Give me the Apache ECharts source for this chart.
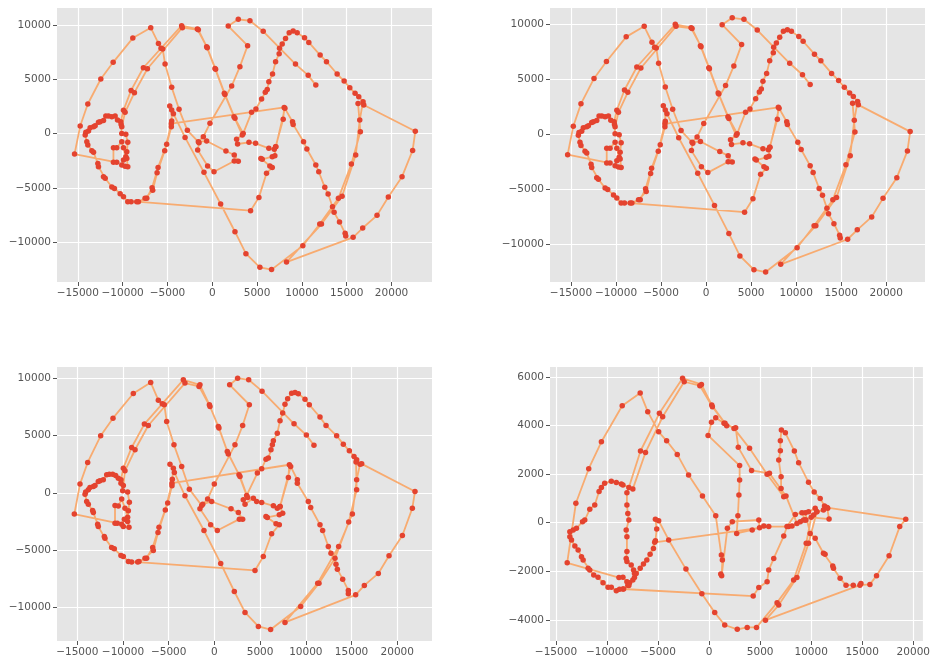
<!DOCTYPE html>
<html>
<head>
<meta charset="utf-8">
<script src="https://cdn.jsdelivr.net/npm/echarts@6/dist/echarts.min.js"></script>
<style>
  html, body { margin: 0; padding: 0; background: #fff; }
  #chart { width: 933px; height: 664px; }
</style>
</head>
<body>
<div id="chart"></div>
<script>
// tick labels
const xTicks = [-15000, -10000, -5000, 0, 5000, 10000, 15000, 20000];
const yTicksWide = [-10000, -5000, 0, 5000, 10000];
const yTicksNarrow = [-4000, -2000, 0, 2000, 4000, 6000];

// pen trace shown in the two top panels
const traceTop = [
  [11550,4490],[10700,5390],[9280,6430],[5680,9450],[4200,10430],[2900,10560],[1780,9940],[3940,8130],[3080,6190],[2160,4400],
  [-260,960],[-1000,-280],[-1560,-740],[-630,-680],[1520,-1600],[2450,-1970],[2900,-2550],[2450,-2520],[190,-3510],[-520,-2980],
  [-1630,-1510],[-1480,-830],[-2780,310],[-3710,2250],[-4530,4280],[-5270,6430],[-5530,7820],[-5720,7880],[-6010,8340],[-6870,9790],
  [-8870,8830],[-11060,6590],[-12440,5050],[-13890,2740],[-14740,710],[-15370,-1880],
  [-10660,-2640],[-11030,-2640],[-11030,-1290],[-10660,-1290],[-10100,-740],[-9910,-1290],[-9650,-2120],[-9910,-2430],[-10100,-2890],
  [-9730,-3010],[-9430,-3040],[-9540,-2280],[-9540,-1660],[-9430,-800],[-9650,-60],[-10100,30],[-10210,1110],
  [-9910,2160],[-9060,4000],[-7690,6090],[-3420,9970],[-1670,9660],
  [-560,7940],[370,5940],[1410,3630],[2530,1420],[3450,30],
  [4380,1970],[4870,2280],[5500,3200],[5910,3820],[6130,4090],[6310,4800],[6720,5510],[7060,6650],[7460,7390],[7500,7880],
  [7800,8280],[8170,8800],[8580,9330],[9020,9480],[9470,9330],[10290,8860],[10770,8430],[12030,7260],[12740,6650],[13930,5510],
  [14710,4860],[15340,4250],[15930,3730],[16340,3420],[16820,2960],
  [16450,1260],[16000,-1970],[14480,-5780],[12180,-8340],[8280,-11850],
  [15710,-9570],
  [16780,-8710],[18380,-7540],[19640,-5850],[21170,-3970],[22350,-1540],[22650,220],[16900,2650],
  [16260,2800],[16520,190],[15520,-2800],[14070,-5970],[11990,-8340],[10100,-10340],[6610,-12550],
  [5310,-12340],[3750,-11080],[2530,-9050],[930,-6490],[-930,-3570],[-3040,-340],
  [-4340,1850],[-4750,2560],[-4530,2190],[-4530,1170],
  [-4570,650],[-5090,-980],[-6050,-3110],[-6720,-4980],[-7310,-5970],[-8240,-6280],
  [-7500,-5970],[-6650,-5230],[-6160,-3600],[-5310,-1570],[-4570,930],
  [8020,2430],[7910,1330],[7060,-1200],
  [6980,-2030],[6690,-2120],[5570,-2370],[5420,-2280],[6420,-2980],[6690,-3110],[6050,-3660],[5200,-5880],[4270,-7110],
  [-8430,-6280],
  [-9060,-6280],[-9430,-6280],[-9910,-5810],[-10280,-5540],[-10920,-5050],[-11210,-4920],[-11950,-4120],[-12140,-3970],[-12700,-3040],
  [-12770,-2740],[-13250,-1720],[-13440,-1570],[-13890,-1040],[-14000,-740],[-14180,-120],[-14110,130],[-13810,250],[-13630,560],
  [-13250,650],[-13070,740],[-12700,1050],[-12510,1110],[-12140,1230],[-11880,1630],[-11580,1630],[-11210,1570],[-10840,1630],
  [-10580,1260],[-10170,860],[-10100,650],
  [-9730,1970],[-8690,3790],[-7240,6000],[-3340,9790],
  [-1560,9600],[-630,8030],[300,6030],[1340,3730],[2420,1570],[3340,-120],
  [2710,-520],[2820,-950],[4090,-800],[4830,-890],[6310,-1350],[6910,-1440],[7090,-1200],
  [8100,2340],
  [8950,1110],[9020,860],[10180,-740],[10550,-1410],[11550,-2890],[11880,-3510],[12550,-4950],[12920,-5570],[13410,-6740],
  [13590,-7260],[14190,-8150],[14820,-9200],[14890,-9450]
];

// bottom-left panel
const traceLowerLeft = [
  [10890,4160],[10060,5040],[8710,6030],[5210,8880],[3750,9870],[2540,10010],[1670,9430],[3820,7690],[3090,5880],[2250,4190],
  [-10,760],[-740,-550],[-1280,-990],[-300,-760],[1820,-1400],[2620,-1720],[3090,-2300],[2730,-2300],[320,-3290],[-410,-2790],
  [-1580,-1400],[-1390,-1110],[-2740,320],[-3580,2300],[-4420,4190],[-5220,6230],[-5480,7690],[-5700,7770],[-6130,8090],[-6970,9640],
  [-8870,8670],[-11090,6520],[-12440,4980],[-13860,2650],[-14700,760],[-15320,-1860],
  [-10620,-2650],[-10870,-2650],[-10870,-1110],[-10510,-1160],[-10140,-550],[-9780,-1340],[-9490,-2130],[-9850,-2300],[-10140,-2740],
  [-9960,-2940],[-9340,-3000],[-9490,-2500],[-9410,-1570],[-9300,-820],[-9490,60],[-10030,170],[-10220,1140],
  [-9960,2150],[-9050,3960],[-7660,6000],[-3400,9870],[-1580,9430],
  [-550,7690],[430,5790],[1410,3610],[2690,1570],[3530,-230],
  [4700,1720],[5170,2100],[5640,2940],[5900,3030],[6190,3760],[6340,4190],[6450,4540],[6880,5210],[7180,6290],[7470,6960],
  [7720,7740],[8010,8210],[8450,8700],[8820,8760],[9180,8650],[9910,8180],[10380,7690],[11550,6610],[12210,5880],[13370,4980],
  [14100,4250],[14760,3670],[15270,3170],[15560,2880],[15930,2500],
  [15560,1140],[15090,-1860],[13590,-4690],[11300,-7890],[7720,-11320],
  [15450,-8910],
  [16400,-8090],[17930,-7040],[19100,-5500],[20560,-3730],[21650,-1340],[21940,120],[16110,2530],
  [15490,2680],[15560,260],[14690,-2560],[13190,-5710],[11440,-7890],[9440,-9930],[6150,-11940],
  [4810,-11670],[3350,-10450],[2180,-8620],[690,-6170],[-1140,-3290],[-3220,-260],
  [-4380,1780],[-4860,2500],[-4490,2150],[-4600,1190],
  [-4640,610],[-5110,-900],[-6060,-3000],[-6750,-4770],[-7410,-5710],[-8250,-6000],
  [-7590,-5710],[-6680,-5040],[-6170,-3460],[-5370,-1510],[-4640,840],
  [8200,2450],[8090,1340],[7180,-1190],
  [7470,-1780],[7100,-1920],[5790,-2150],[5640,-2070],[6740,-2710],[7100,-2790],[6260,-3580],[5350,-5560],[4440,-6780],
  [-8390,-6050],
  [-9050,-6050],[-9410,-6000],[-9960,-5560],[-10220,-5470],[-10950,-4890],[-11240,-4770],[-11970,-3960],[-12040,-3810],[-12700,-2940],
  [-12770,-2740],[-13240,-1720],[-13320,-1540],[-13790,-990],[-13970,-760],[-14150,-120],[-14080,60],[-13790,260],[-13610,470],
  [-13240,550],[-13060,640],[-12700,990],[-12510,1050],[-12150,1140],[-11780,1570],[-11490,1630],[-11130,1630],[-10800,1510],
  [-10510,1280],[-10220,840],[-9960,640],
  [-9780,1920],[-8680,3760],[-7230,5880],[-3220,9580],
  [-1680,9290],[-480,7540],[500,5650],[1520,3380],[2800,1430],[3640,-410],
  [3160,-610],[3350,-990],[4260,-470],[4620,-760],[5170,-840],[6450,-1140],[6880,-1340],[7180,-1190],
  [8340,2300],
  [9070,1140],[9070,840],[10270,-760],[10530,-1280],[11550,-2790],[11840,-3290],[12460,-4690],[12750,-5270],[13300,-6230],
  [13450,-6670],[14030,-7540],[14650,-8530],[14650,-8820]
];

// bottom-right panel
const traceLowerRight = [
  [1460,4090],[650,4320],[230,4130],[-100,3590],[2990,2350],[2990,1760],[2920,1140],[2820,290],[2700,-440],[4220,-300],
  [5360,-140],[4940,-210],[4870,110],[2270,40],[1790,-230],[1230,-2180],[1140,-2110],[1300,-1540],[1200,-1330],[650,290],
  [-650,1100],[-2010,1960],[-3120,2810],[-4160,3370],[-4940,3740],[-6010,4570],[-6750,5340],[-8510,4810],[-10550,3330],
  [-11790,2220],[-13050,800],[-13900,-1650],
  [-8830,-2260],[-8440,-2250],[-8050,-2430],[-7790,-2470],[-7470,-2360],[-7310,-2090],[-7400,-1950],[-7630,-1740],[-8050,-1600],
  [-8120,-1470],[-8050,-1190],[-8050,-580],[-8120,-300],[-7860,110],[-7960,380],[-8050,730],[-8050,1230],[-7860,1450],
  [-6720,2950],[-4870,4500],[-2600,5940],[-750,5690],
  [260,4840],[1560,4090],[2440,3880],[3960,3060],[5680,1990],[7310,1070],
  [7050,1410],[7050,1890],[6820,2580],[6980,2960],[6980,3370],[7080,3810],[7470,3700],[8350,2950],[8770,2470],[9740,1660],
  [10290,1260],[10880,1000],[11300,690],[11620,590],
  [11200,520],[10550,450],[9740,-850],[8600,-2260],[6820,-3390],[5520,-4010],
  [14770,-2570],
  [14870,-2500],[15750,-2540],[16400,-2180],[17630,-1360],[18670,-160],[19260,140],[11560,620],
  [11750,150],[10000,220],[9510,-850],[8280,-2360],[6660,-3290],[4640,-4310],
  [3730,-4310],[2760,-4390],[1530,-4210],[550,-3700],[-710,-2920],[-2270,-1910],[-3960,-710],[-4940,80],
  [-5260,140],[-5130,-260],[-5260,-740],
  [-5450,-1060],[-6100,-1540],[-6750,-1880],[-7310,-2260],[-7960,-2570],[-8380,-2730],
  [-7860,-2590],[-7140,-2090],[-6430,-1700],[-5780,-1300],[-5330,-810],
  [5840,-160],[7790,-160],[8120,-140],[8930,40],[9420,110],
  [9090,410],[8440,340],[7630,-160],[7310,-550],[6330,-1470],[5840,-1950],[5680,-2430],[4870,-2670],[4320,-3020],
  [-8440,-2730],
  [-8770,-2740],[-9090,-2800],[-9580,-2660],[-9900,-2660],[-10390,-2470],[-10880,-2250],[-11300,-2150],[-11690,-1950],
  [-11850,-1880],[-12340,-1540],[-12500,-1400],[-12830,-1120],[-13150,-960],[-13480,-710],[-13640,-580],[-13640,-370],
  [-13310,-300],[-12990,-230],[-12400,40],[-12180,110],[-11690,550],[-11200,730],[-10780,1280],[-10550,1450],[-10230,1620],
  [-9580,1710],[-9090,1650],[-8600,1590],[-8440,1550],
  [-7470,1390],[-6230,2890],[-4550,4360],[-2440,5800],
  [-910,5640],[320,4770],[1720,3990],[2600,3910],[2860,3100],[4160,2150],[5910,2030],[7530,1100],
  [8600,-30],[9250,110],[9480,110],[10230,320],[10550,450],[10390,590],[9740,450],[9420,410],
  [9900,-440],[10390,-640],[11200,-1260],[11360,-1300],[12110,-1780],[12180,-1880],[12830,-2290],[13410,-2570],[14120,-2570]
];

const panels = [
  { trace: traceTop,        left: 57,  top: 8,   xr: [-17327, 24512], yr: [-13693, 11607], yTicks: yTicksWide },
  { trace: traceTop,        left: 550, top: 8,   xr: [-17327, 24298], yr: [-13455, 11455], yTicks: yTicksWide },
  { trace: traceLowerLeft,  left: 57,  top: 367, xr: [-17215, 23800], yr: [-12943, 10987], yTicks: yTicksWide },
  { trace: traceLowerRight, left: 550, top: 367, xr: [-15584, 20941], yr: [-4869, 6407],  yTicks: yTicksNarrow }
];

const fmt = v => String(v).replace('-', '\u2212');
const labelStyle = { color: '#555555', fontSize: 10.5, fontFamily: 'DejaVu Sans', formatter: fmt };

function axis(i, range, ticks) {
  return {
    type: 'value',
    gridIndex: i,
    min: range[0],
    max: range[1],
    axisLine: { show: false, onZero: false },
    axisTick: { show: true, length: 4, customValues: ticks, lineStyle: { color: '#555555' } },
    axisLabel: Object.assign({ customValues: ticks, margin: 6 }, labelStyle),
    splitLine: { show: true, lineStyle: { color: '#ffffff', width: 1.2 } }
  };
}

const chart = echarts.init(document.getElementById('chart'));
chart.setOption({
  animation: false,
  backgroundColor: '#ffffff',
  grid: panels.map(p => ({
    left: p.left, top: p.top, width: 375, height: 274,
    show: true, backgroundColor: '#E5E5E5', borderWidth: 0
  })),
  xAxis: panels.map((p, i) => axis(i, p.xr, xTicks)),
  yAxis: panels.map((p, i) => axis(i, p.yr, p.yTicks)),
  series: panels.map((p, i) => ({
    type: 'line',
    xAxisIndex: i,
    yAxisIndex: i,
    data: p.trace,
    symbol: 'circle',
    symbolSize: 5.5,
    lineStyle: { color: '#F9A463', width: 1.8, opacity: 0.9 },
    itemStyle: { color: '#E4432F' },
    emphasis: { disabled: true }
  }))
});
</script>
</body>
</html>
